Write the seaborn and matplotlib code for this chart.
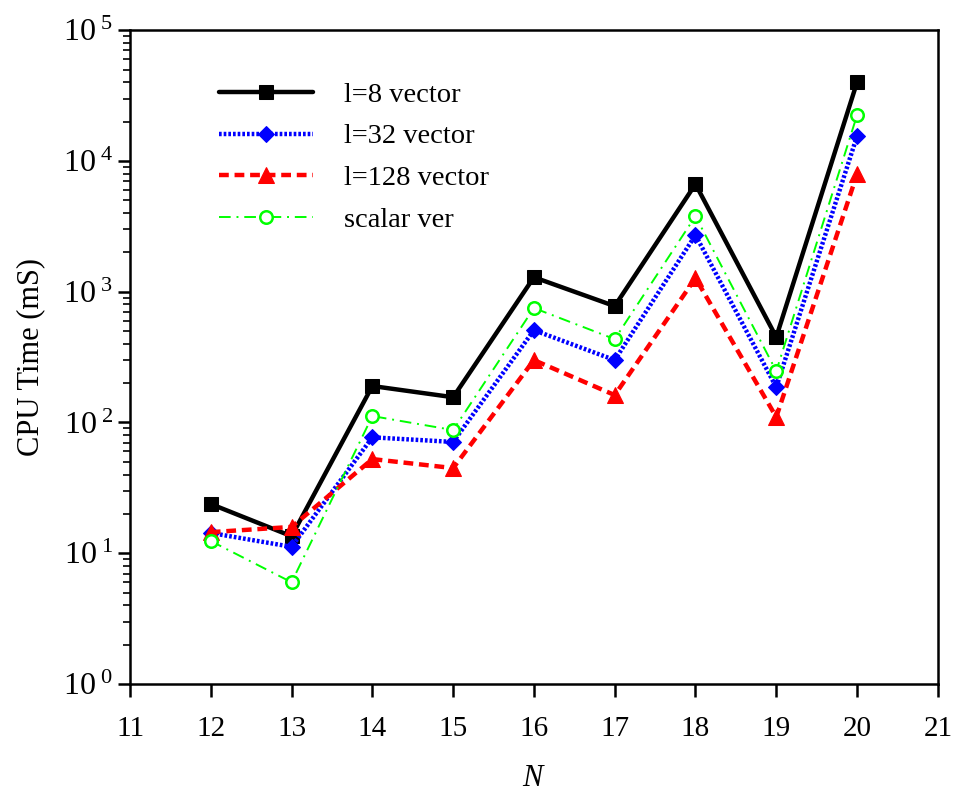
import numpy as np
import pandas as pd
import seaborn as sns
import matplotlib
matplotlib.use("Agg")
import matplotlib.pyplot as plt
from matplotlib.ticker import FuncFormatter, LogLocator, NullFormatter

# data
n_values = [12, 13, 14, 15, 16, 17, 18, 19, 20]
vec8 = [23.8, 13.5, 190, 156, 1290, 776, 6650, 450, 40000]
vec32 = [14.3, 11.2, 77, 71, 508, 300, 2710, 186, 15500]
vec128 = [14.5, 15.9, 52.5, 44.8, 300, 162, 1270, 110, 7930]
scalar = [12.4, 6.0, 112, 87.5, 750, 434, 3785, 247, 22400]
labels = ["l=8 vector", "l=32 vector", "l=128 vector", "scalar ver"]

sns.set_style("ticks", {"axes.edgecolor": "black", "text.color": "black",
                        "axes.labelcolor": "black", "xtick.color": "black",
                        "ytick.color": "black"})
plt.rcParams['font.family'] = ['Liberation Serif', 'DejaVu Serif']
plt.rcParams['mathtext.fontset'] = 'custom'
plt.rcParams['mathtext.rm'] = 'Liberation Serif'
plt.rcParams['mathtext.it'] = 'Liberation Serif:italic'

fig = plt.figure(figsize=(9.56, 7.94), dpi=100, facecolor="white")
ax = fig.add_axes([0.136, 0.1385, 0.845, 0.8235])

styles = [
    dict(color="black", linestyle="-", lw=3.2, marker="s", ms=10, mfc="black", mec="black"),
    dict(color="blue", linestyle=(0, (0.6, 0.45)), lw=3.2, marker="D", ms=8, mfc="blue", mec="blue"),
    dict(color="red", linestyle=(0, (2.2, 1.3)), lw=3.2, marker="^", ms=11, mfc="red", mec="red"),
    dict(color="#00ff00", linestyle=(0, (6, 3, 1, 3)), lw=1.4, marker="o", ms=9, mfc="white", mec="#00ff00", mew=1.8),
]

for vals, lab, st in zip([vec8, vec32, vec128, scalar], labels, styles):
    df = pd.DataFrame({"N": n_values, "t": vals})
    sns.lineplot(data=df, x="N", y="t", ax=ax, label=lab, **st)

ax.set_yscale("log")
ax.set_ylim(1, 1e5)
ax.set_xlim(11, 21)
ax.set_xticks(range(11, 22))
ax.yaxis.set_major_locator(LogLocator(base=10, numticks=10))
ax.yaxis.set_minor_locator(LogLocator(base=10, subs=np.arange(2, 10), numticks=20))
ax.yaxis.set_minor_formatter(NullFormatter())
ax.yaxis.set_major_formatter(FuncFormatter(lambda v, p: r"$10^{\,\,%d}$" % round(np.log10(v))))

ax.tick_params(axis="both", which="major", direction="out", length=9, width=1.8)
ax.tick_params(axis="y", which="minor", direction="out", length=5, width=1.2)
ax.tick_params(axis="y", which="major", labelsize=23, pad=3)
ax.tick_params(axis="x", which="major", labelsize=21, pad=14)
for sp in ax.spines.values():
    sp.set_linewidth(1.8)
    sp.set_visible(True)

ax.set_xlabel(r"$\it{N}$", fontsize=22, labelpad=16)
ax.set_ylabel("CPU Time (mS)", fontsize=22, labelpad=13)

leg = ax.legend(loc="upper left", bbox_to_anchor=(0.078, 0.96), frameon=False,
                fontsize=20.5, handlelength=3.3, labelspacing=0.55, handletextpad=1.1)

fig.savefig("out.png", dpi=100, facecolor="white")
